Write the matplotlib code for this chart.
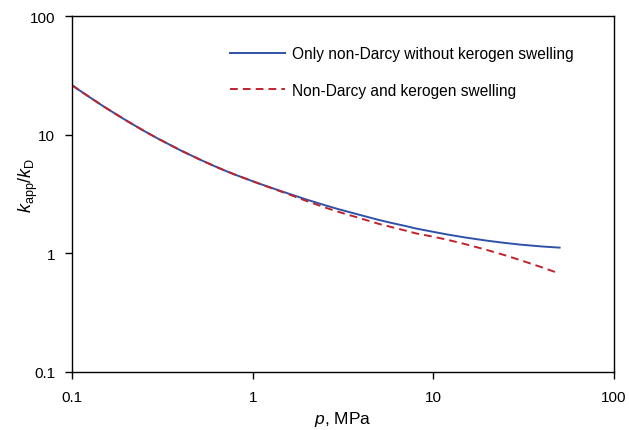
import numpy as np
import matplotlib
matplotlib.use("Agg")
import matplotlib.pyplot as plt
from matplotlib.ticker import FixedLocator, FuncFormatter, NullLocator

plt.rcParams['font.family'] = ['Liberation Sans', 'DejaVu Sans']
plt.rcParams['mathtext.fontset'] = 'custom'
plt.rcParams['mathtext.rm'] = 'Liberation Sans'
plt.rcParams['mathtext.it'] = 'Liberation Sans:italic'

# values
p_mpa = [0.1, 0.12, 0.15, 0.2, 0.25, 0.3, 0.4, 0.5, 0.6, 0.7, 0.8, 1, 1.2, 1.5, 2, 2.5,
         3, 4, 5, 6, 7, 8, 10, 12, 15, 20, 25, 30, 40, 50]
k_non_darcy = [26.1, 21.6, 17.24, 13.14, 10.77, 9.24, 7.36, 6.26, 5.52, 4.99, 4.60, 4.05, 3.67, 3.27, 2.83, 2.55,
               2.35, 2.09, 1.91, 1.79, 1.70, 1.62, 1.517, 1.44, 1.36, 1.276, 1.223, 1.186, 1.142, 1.117]
k_swelling = [26.1, 21.6, 17.24, 13.14, 10.77, 9.24, 7.36, 6.26, 5.52, 4.99, 4.60, 4.05, 3.66, 3.24, 2.75, 2.44,
              2.23, 1.96, 1.77, 1.65, 1.556, 1.473, 1.38, 1.30, 1.196, 1.063, 0.962, 0.881, 0.761, 0.675]
labels = ['Only non-Darcy without kerogen swelling', 'Non-Darcy and kerogen swelling']

fig = plt.figure(figsize=(6.29, 4.31), dpi=100)
ax = fig.add_axes([72 / 629, 1 - 373 / 431, 542 / 629, 356 / 431])

ax.plot(p_mpa, k_non_darcy, color='#2f52a8', lw=1.4, label=labels[0])
ax.plot(p_mpa, k_swelling, color='#c0232b', lw=1.4, dashes=(4, 2.6), label=labels[1])

ax.set_xscale('log')
ax.set_yscale('log')
ax.set_xlim(0.1, 100)
ax.set_ylim(0.1, 100)

ticks = [0.1, 1, 10, 100]
fmt = FuncFormatter(lambda v, pos: '{:g}'.format(v))
for axis in (ax.xaxis, ax.yaxis):
    axis.set_major_locator(FixedLocator(ticks))
    axis.set_minor_locator(NullLocator())
    axis.set_major_formatter(fmt)
ax.tick_params(direction='out', length=5, width=1, labelsize=11)
ax.tick_params(axis='x', pad=8)
ax.tick_params(axis='y', pad=7)

for sp in ax.spines.values():
    sp.set_linewidth(1)

ax.set_xlabel('$p$, MPa', fontsize=12.5)
ax.set_ylabel(r'$k_\mathrm{app}/k_\mathrm{D}$', fontsize=13)
ax.xaxis.set_label_coords(0.5, -0.104)
ax.yaxis.set_label_coords(-0.059, 0.528)

ax.legend(loc='upper left', bbox_to_anchor=(0.2915, 0.915), frameon=False, fontsize=11.2,
          handlelength=3.53, handletextpad=0.45, labelspacing=1.37, borderpad=0, borderaxespad=0)

fig.savefig('out.png', dpi=100)
